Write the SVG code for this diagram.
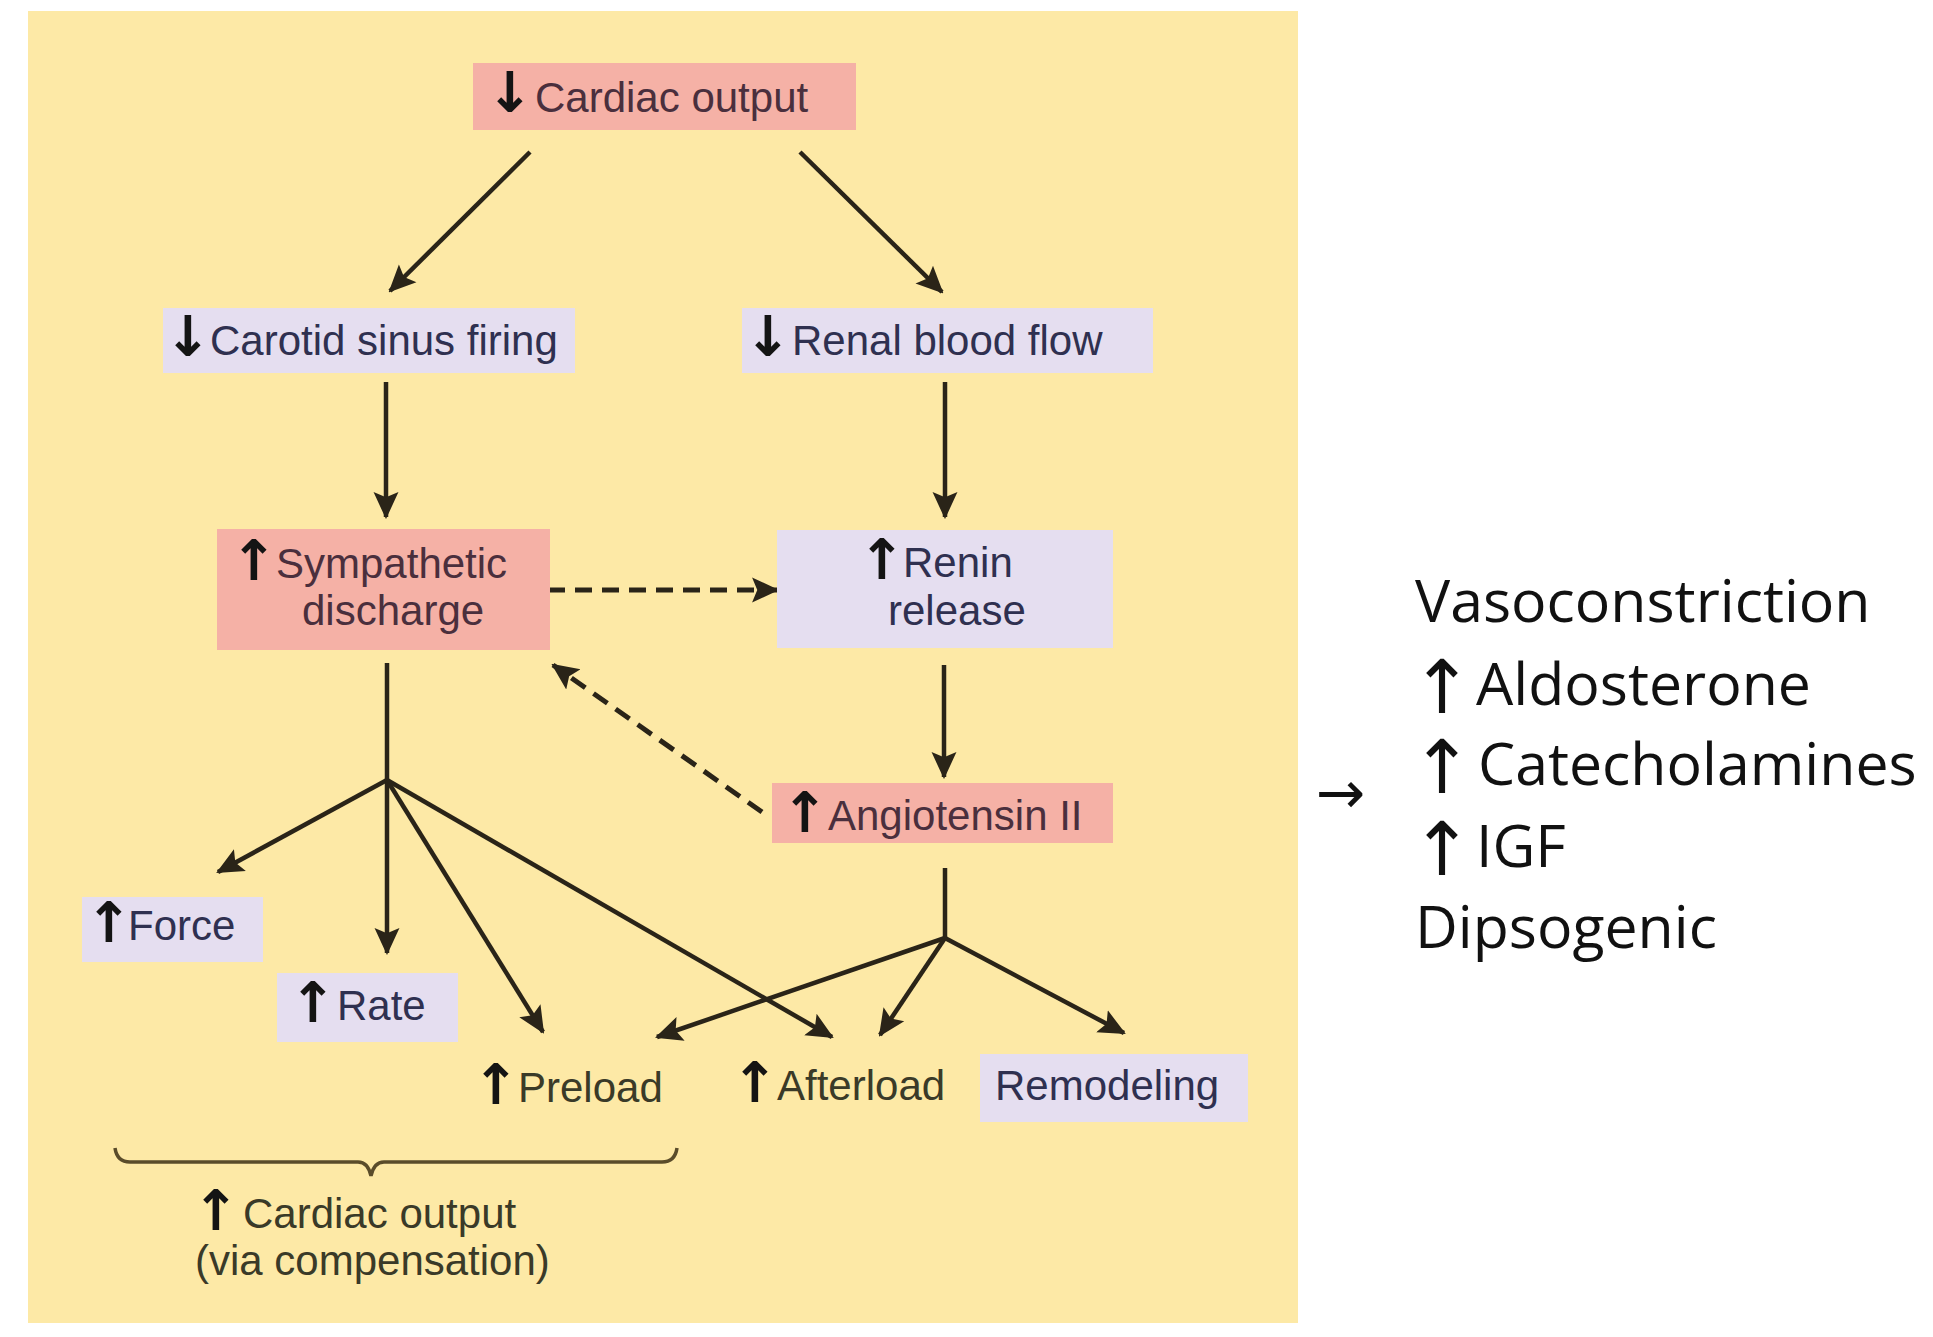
<svg xmlns="http://www.w3.org/2000/svg" width="1933" height="1337" viewBox="0 0 1933 1337">
<defs>
<style>
.lbl{font-family:"Liberation Sans",Arial,sans-serif;font-size:42px}
.tp{fill:#4a2f3d}
.tl{fill:#2f3050}
.ty{fill:#3a3a28}
.ar{font-family:"DejaVu Sans",sans-serif;font-weight:bold;font-size:56px;fill:#141414;text-anchor:middle}
.pink{fill:#f5b1a6}
.lav{fill:#e5def0}
.con{fill:none;stroke:#2a2418;stroke-width:4.5}
.dash{stroke-dasharray:17 10;stroke-width:5}
.rt{font-family:"Open Sans","Noto Sans",sans-serif;font-size:59px;fill:#111}
.rar{font-family:"DejaVu Sans",sans-serif;font-size:59px;fill:#111}
.rup{font-family:"DejaVu Sans",sans-serif;font-size:74px;fill:#111;text-anchor:middle}
</style>
<marker id="ah" viewBox="0 0 26 26" refX="24" refY="13" markerWidth="27" markerHeight="27" markerUnits="userSpaceOnUse" orient="auto">
<path d="M0,1 L26,13 L0,25 L5,13 z" fill="#2a2418"/>
</marker>
</defs>
<rect x="0" y="0" width="1933" height="1337" fill="#ffffff"/>
<rect id="panel" x="28" y="11" width="1270" height="1312" fill="#fde9a6"/>

<g id="connectors">
<line class="con" x1="530" y1="152" x2="390" y2="291" marker-end="url(#ah)"/>
<line class="con" x1="800" y1="152" x2="942" y2="292" marker-end="url(#ah)"/>
<line class="con" x1="386" y1="382" x2="386" y2="517" marker-end="url(#ah)"/>
<line class="con" x1="945" y1="382" x2="945" y2="517" marker-end="url(#ah)"/>
<line class="con dash" x1="548" y1="590" x2="777" y2="590" marker-end="url(#ah)"/>
<line class="con" x1="944" y1="665" x2="944" y2="777" marker-end="url(#ah)"/>
<line class="con dash" x1="762" y1="812" x2="553" y2="665" marker-end="url(#ah)"/>
<line class="con" x1="387" y1="663" x2="387" y2="780"/>
<line class="con" x1="387" y1="780" x2="218" y2="872" marker-end="url(#ah)"/>
<line class="con" x1="387" y1="780" x2="387" y2="953" marker-end="url(#ah)"/>
<line class="con" x1="387" y1="780" x2="543" y2="1032" marker-end="url(#ah)"/>
<line class="con" x1="387" y1="780" x2="832" y2="1037" marker-end="url(#ah)"/>
<line class="con" x1="945" y1="868" x2="945" y2="938"/>
<line class="con" x1="945" y1="938" x2="657" y2="1037" marker-end="url(#ah)"/>
<line class="con" x1="945" y1="938" x2="880" y2="1035" marker-end="url(#ah)"/>
<line class="con" x1="945" y1="938" x2="1124" y2="1033" marker-end="url(#ah)"/>
<path id="brace" d="M115,1148 Q117,1162 130,1162 L358,1162 Q368,1162 371,1176 Q374,1162 384,1162 L662,1162 Q675,1162 677,1148" fill="none" stroke="#5a4c2a" stroke-width="3.5"/>
</g>

<g id="n-cardiac">
<rect class="pink" x="473" y="63" width="383" height="67"/>
<text class="ar" x="510" y="112">↓</text>
<text class="lbl tp" x="535" y="112">Cardiac output</text>
</g>
<g id="n-carotid">
<rect class="lav" x="163" y="308" width="412" height="65"/>
<text class="ar" x="188" y="356">↓</text>
<text class="lbl tl" x="210" y="355">Carotid sinus firing</text>
</g>
<g id="n-renal">
<rect class="lav" x="742" y="308" width="411" height="65"/>
<text class="ar" x="768" y="356">↓</text>
<text class="lbl tl" x="792" y="355">Renal blood flow</text>
</g>
<g id="n-sympathetic">
<rect class="pink" x="217" y="529" width="333" height="121"/>
<text class="ar" x="254" y="580">↑</text>
<text class="lbl tp" x="276" y="578">Sympathetic</text>
<text class="lbl tp" x="302" y="625">discharge</text>
</g>
<g id="n-renin">
<rect class="lav" x="777" y="530" width="336" height="118"/>
<text class="ar" x="882" y="579">↑</text>
<text class="lbl tl" x="903" y="577">Renin</text>
<text class="lbl tl" x="888" y="625">release</text>
</g>
<g id="n-angiotensin">
<rect class="pink" x="772" y="783" width="341" height="60"/>
<text class="ar" x="805" y="832">↑</text>
<text class="lbl tp" x="828" y="830">Angiotensin II</text>
</g>
<g id="n-force">
<rect class="lav" x="82" y="897" width="181" height="65"/>
<text class="ar" x="109" y="942">↑</text>
<text class="lbl tl" x="128" y="940">Force</text>
</g>
<g id="n-rate">
<rect class="lav" x="277" y="973" width="181" height="69"/>
<text class="ar" x="313" y="1022">↑</text>
<text class="lbl tl" x="337" y="1020">Rate</text>
</g>
<g id="n-preload">
<text class="ar" x="496" y="1104">↑</text>
<text class="lbl ty" x="518" y="1102">Preload</text>
</g>
<g id="n-afterload">
<text class="ar" x="755" y="1102">↑</text>
<text class="lbl ty" x="777" y="1100">Afterload</text>
</g>
<g id="n-remodeling">
<rect class="lav" x="980" y="1054" width="268" height="68"/>
<text class="lbl tl" x="995" y="1100">Remodeling</text>
</g>
<g id="n-compensation">
<text class="ar" x="216" y="1230">↑</text>
<text class="lbl ty" x="243" y="1228">Cardiac output</text>
<text class="lbl ty" x="195" y="1275">(via compensation)</text>
</g>

<g id="n-effects">
<text class="rar" x="1316" y="813">→</text>
<text class="rt" x="1415" y="622">Vasoconstriction</text>
<text class="rup" x="1442" y="713">↑</text>
<text class="rt" x="1476" y="705">Aldosterone</text>
<text class="rup" x="1442" y="793">↑</text>
<text class="rt" x="1478" y="785">Catecholamines</text>
<text class="rup" x="1442" y="875">↑</text>
<text class="rt" x="1476" y="867">IGF</text>
<text class="rt" x="1415" y="948">Dipsogenic</text>
</g>
</svg>
